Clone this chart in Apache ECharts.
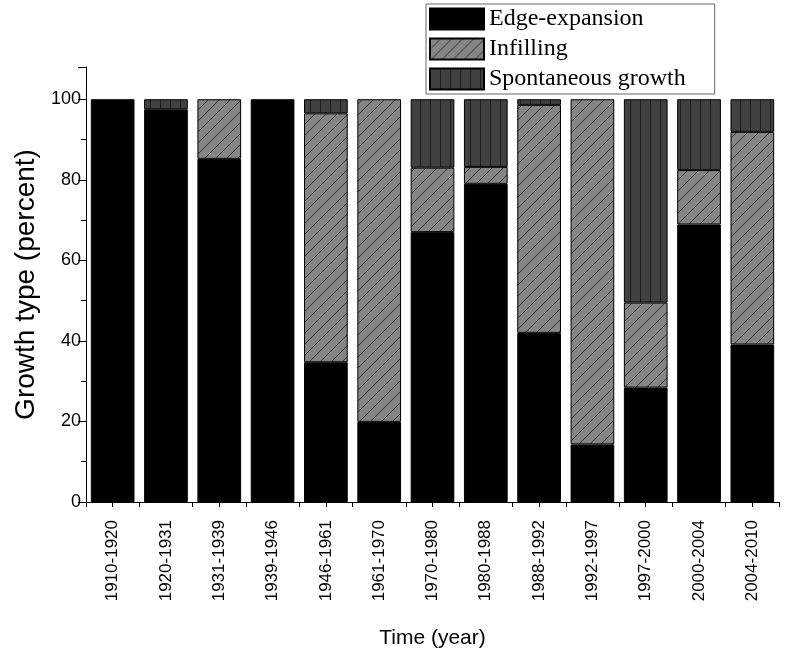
<!DOCTYPE html>
<html>
<head>
<meta charset="utf-8">
<script src="https://cdn.jsdelivr.net/npm/echarts@6/dist/echarts.min.js"></script>
<style>
html,body{margin:0;padding:0;background:#fff;}
#chart{width:785px;height:654px;}
</style>
</head>
<body>
<div id="chart"></div>
<script>
const categories = ['1910-1920','1920-1931','1931-1939','1939-1946','1946-1961','1961-1970','1970-1980','1980-1988','1988-1992','1992-1997','1997-2000','2000-2004','2004-2010'];
const edgeExpansion = [100, 97.5, 85.2, 100, 34.7, 19.9, 67.0, 79.0, 42.0, 14.3, 28.4, 68.9, 39.1];
const infilling     = [0, 0, 14.8, 0, 61.8, 80.1, 16.0, 4.2, 56.6, 85.7, 21.1, 13.5, 52.8];
const spontaneous   = [0, 2.5, 0, 0, 3.5, 0, 17.0, 16.8, 1.4, 0, 50.5, 17.6, 8.1];
const seriesNames = ['Edge-expansion', 'Infilling', 'Spontaneous growth'];
const yMin = 0, yMax = 108, yInterval = 20;

function diagPattern() {
  const c = document.createElement('canvas');
  c.width = 11; c.height = 11;
  const g = c.getContext('2d');
  g.fillStyle = '#858585';
  g.fillRect(0, 0, 11, 11);
  g.strokeStyle = '#1a1a1a';
  g.lineWidth = 0.75;
  g.beginPath();
  g.moveTo(-1, 12); g.lineTo(12, -1);
  g.moveTo(-12, 12); g.lineTo(1, -1);
  g.moveTo(10, 12); g.lineTo(23, -1);
  g.stroke();
  return c;
}
function vertPattern() {
  const c = document.createElement('canvas');
  c.width = 10; c.height = 10;
  const g = c.getContext('2d');
  g.fillStyle = '#414141';
  g.fillRect(0, 0, 10, 10);
  g.fillStyle = '#1c1c1c';
  g.fillRect(0, 0, 1, 10);
  return c;
}

const toData = arr => arr.map(v => v === 0 ? '-' : v);

const chart = echarts.init(document.getElementById('chart'), null, {renderer: 'canvas'});
const axisFont = 'Liberation Sans, Arial, sans-serif';
const option = {
  animation: false,
  backgroundColor: '#fff',
  grid: {left: 86, right: 6, top: 67, bottom: 152, containLabel: false},
  legend: {
    orient: 'vertical',
    left: 426,
    top: 4,
    padding: [3, 29, 3, 3],
    itemWidth: 54,
    itemHeight: 21,
    itemGap: 6,
    icon: 'rect',
    borderColor: '#666',
    borderWidth: 1,
    textStyle: {fontFamily: 'Liberation Serif, Times New Roman, serif', fontSize: 24, color: '#000', padding: [0, 0, 0, 0]},
    data: seriesNames
  },
  xAxis: [{
    type: 'category',
    data: categories,
    position: 'bottom',
    axisLine: {lineStyle: {color: '#000', width: 1}},
    axisTick: {show: true, alignWithLabel: false, length: 5, lineStyle: {color: '#000'}},
    axisLabel: {rotate: 90, fontSize: 17, margin: 18, color: '#000', fontFamily: axisFont, interval: 0},
    name: 'Time (year)',
    nameLocation: 'middle',
    nameGap: 126,
    nameTextStyle: {fontSize: 21, color: '#000', fontFamily: axisFont},
    splitLine: {show: false}
  }, {
    type: 'category',
    data: categories,
    position: 'bottom',
    axisLine: {show: false},
    axisTick: {show: true, alignWithLabel: true, length: 5, lineStyle: {color: '#000'}},
    axisLabel: {show: false},
    splitLine: {show: false}
  }],
  yAxis: {
    type: 'value',
    min: yMin,
    max: yMax,
    interval: yInterval,
    axisLine: {show: true, lineStyle: {color: '#000', width: 1}},
    axisTick: {show: true, length: 8, lineStyle: {color: '#000'}},
    minorTick: {show: true, splitNumber: 2, length: 5, lineStyle: {color: '#000'}},
    axisLabel: {fontSize: 18, color: '#000', margin: 5, fontFamily: axisFont,
      formatter: v => v > 100 ? '' : String(v)},
    splitLine: {show: false},
    name: 'Growth type (percent)',
    nameLocation: 'middle',
    nameGap: 38,
    nameTextStyle: {fontSize: 28, color: '#000', fontFamily: axisFont}
  },
  series: [
    {name: seriesNames[0], type: 'bar', stack: 'g', barCategoryGap: '18%', data: toData(edgeExpansion),
     itemStyle: {color: '#000', borderColor: '#000', borderWidth: 1}},
    {name: seriesNames[1], type: 'bar', stack: 'g', barCategoryGap: '18%', data: toData(infilling),
     itemStyle: {color: {image: diagPattern(), repeat: 'repeat'}, borderColor: '#000', borderWidth: 1}},
    {name: seriesNames[2], type: 'bar', stack: 'g', barCategoryGap: '18%', data: toData(spontaneous),
     itemStyle: {color: {image: vertPattern(), repeat: 'repeat'}, borderColor: '#000', borderWidth: 1}}
  ]
};
chart.setOption(option);
</script>
</body>
</html>
